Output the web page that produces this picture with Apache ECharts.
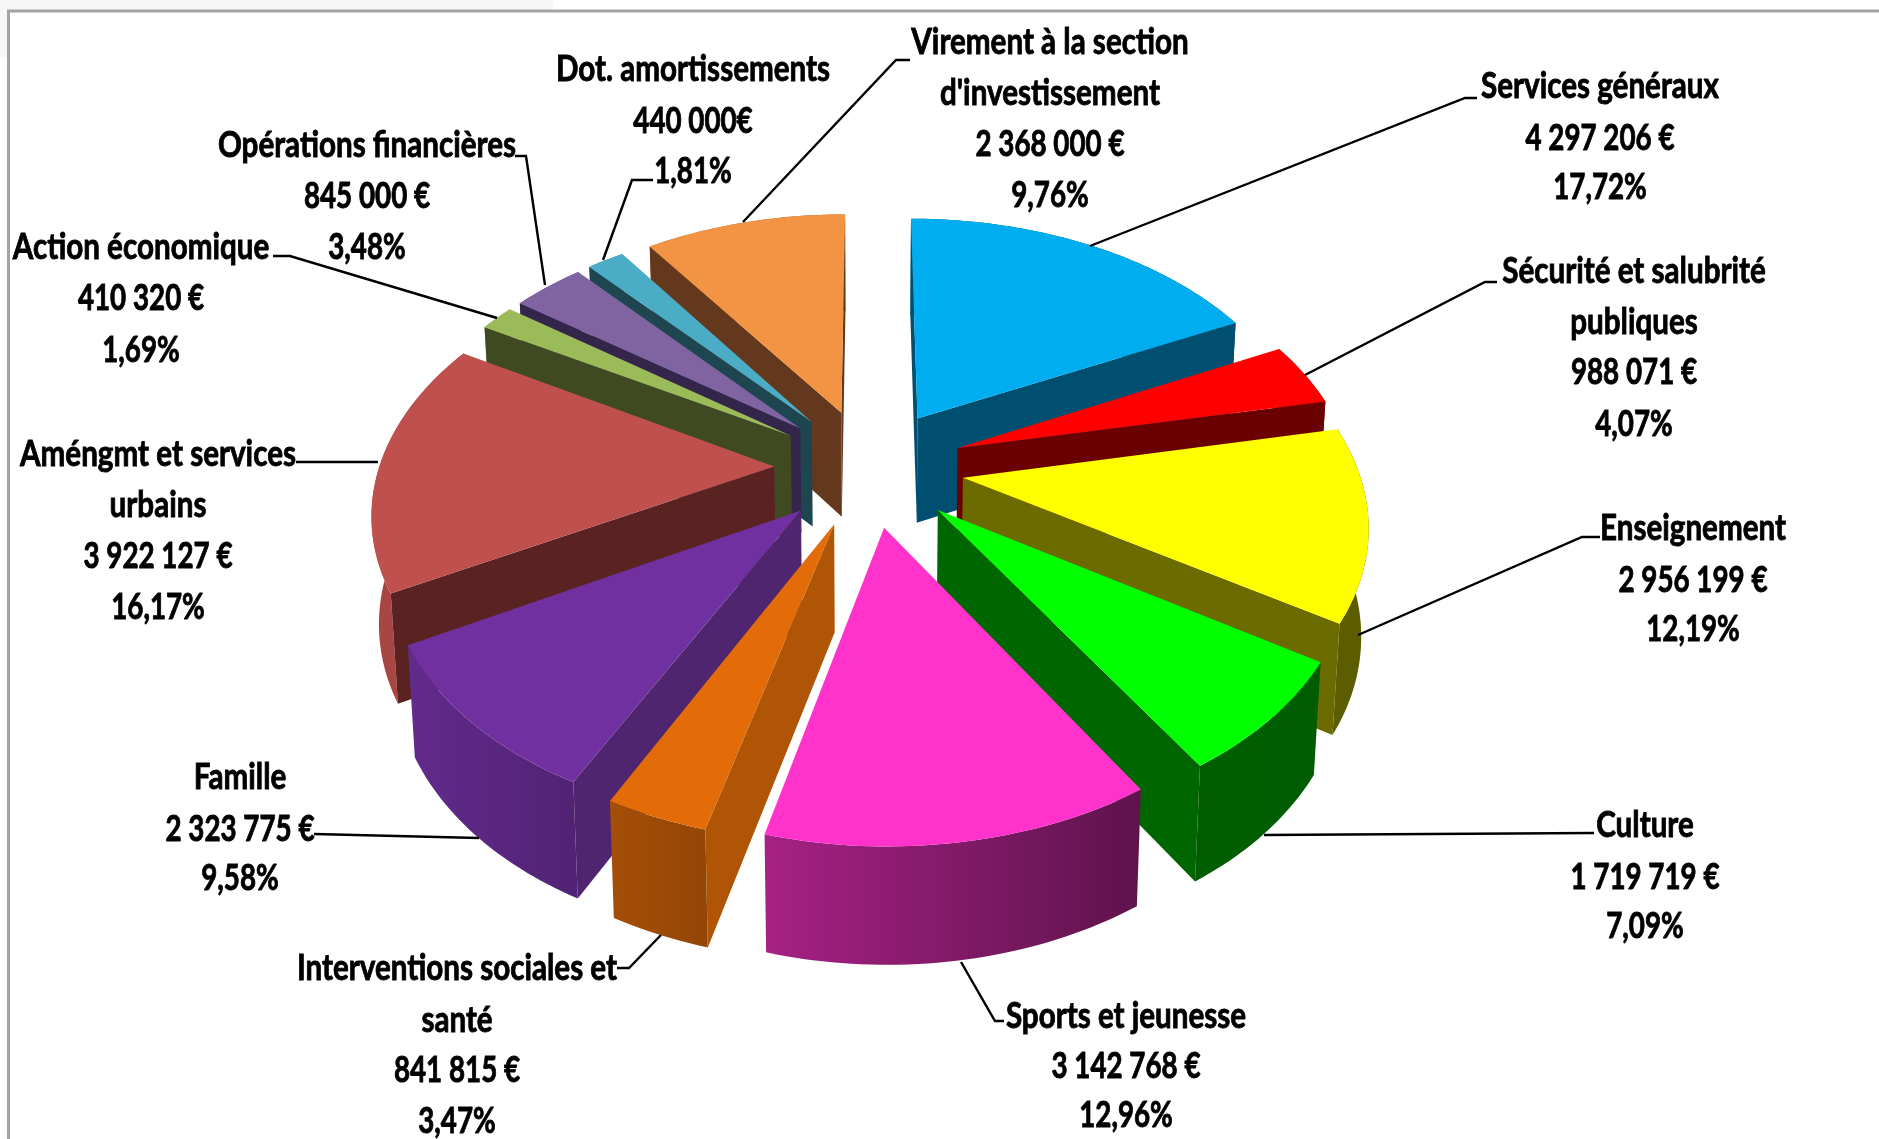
<!DOCTYPE html>
<html>
<head>
<meta charset="utf-8">
<style>html,body{margin:0;padding:0;background:#fff}#chart{width:1879px;height:1139px}</style>
<script src="https://cdn.jsdelivr.net/npm/echarts@6/dist/echarts.min.js"></script>
</head>
<body>
<div id="chart"></div>
<script>
const categories = ["Services généraux", "Sécurité et salubrité|publiques", "Enseignement", "Culture", "Sports et jeunesse", "Interventions sociales et|santé", "Famille", "Améngmt et services|urbains", "Action économique", "Opérations financières", "Dot. amortissements", "Virement à la section|d'investissement"];
const values = [4297206, 988071, 2956199, 1719719, 3142768, 841815, 2323775, 3922127, 410320, 845000, 440000, 2368000];
const amounts = ["4 297 206 €", "988 071 €", "2 956 199 €", "1 719 719 €", "3 142 768 €", "841 815 €", "2 323 775 €", "3 922 127 €", "410 320 €", "845 000 €", "440 000€", "2 368 000 €"];
const percents = ["17,72%", "4,07%", "12,19%", "7,09%", "12,96%", "3,47%", "9,58%", "16,17%", "1,69%", "3,48%", "1,81%", "9,76%"];
const topColors = ["#00AEEF", "#FF0000", "#FFFF00", "#00FF00", "#FF33CC", "#E36C09", "#7030A0", "#C0504D", "#9BBB59", "#8064A2", "#4BACC6", "#F29444"];
const wallColors = ["#004F70", "#6B0000", "#6B6B00", "#006600", "#7A1A62", "#B05505", "#502570", "#5A2322", "#404A22", "#34264A", "#1E4650", "#64381C"];

// label placement, one y per text line
const labelBoxes = [
    {x: 1600, y: [86, 138, 187]},
    {x: 1634, y: [271, 322, 372, 424]},
    {x: 1693, y: [528, 580, 629]},
    {x: 1645, y: [825, 877, 926]},
    {x: 1126, y: [1016, 1066, 1115]},
    {x: 457, y: [968, 1020, 1070, 1121]},
    {x: 240, y: [777, 829, 878]},
    {x: 158, y: [454, 505, 556, 607]},
    {x: 141, y: [247, 298, 350]},
    {x: 367, y: [145, 196, 247]},
    {x: 693, y: [69, 121, 171]},
    {x: 1050, y: [42, 93, 144, 195]}
];
const leaders = [
    [[1477, 98], [1465, 98], [1090, 246]],
    [[1497, 282], [1485, 282], [1305, 375]],
    [[1600, 537], [1582, 537], [1358, 635]],
    [[1594, 833], [1264, 835]],
    [[1004, 1021], [995, 1021], [961, 962]],
    [[617, 968], [629, 968], [661, 935]],
    [[314, 834], [479, 838]],
    [[296, 462], [378, 462]],
    [[273, 256], [290, 256], [497, 318]],
    [[515, 156], [526, 156], [545, 285]],
    [[653, 180], [632, 180], [603, 260]],
    [[910, 60], [896, 60], [743, 222]]
];

// perspective projection of the exploded pie
const CX = 869, CY = 467, R = 395, RY = 246, DEPTH = 106, PERSP = 0.16, EXPLODE = 0.24;
const total = values.reduce((a, b) => a + b, 0);

const project = (u, v, low) => {
    const s = 1 / (1 - PERSP * v);
    let x = CX + u * R * s;
    let y = CY + v * RY * s;
    if (low) {
        x = CX + (x - CX) * 0.985;
        y += DEPTH * Math.sqrt(s);
    }
    return [x, y];
};

const shade = (color, f) => {
    const n = parseInt(color.slice(1), 16);
    const c = [n >> 16, (n >> 8) & 255, n & 255].map(ch => Math.round(ch * f));
    return "rgb(" + c.join(",") + ")";
};

const rimFactor = (a) => Math.min(0.88, Math.max(0.36, 0.56 - 0.36 * Math.sin(a)));

const renderSlice = (params, api) => {
    const i = api.value(0);
    let before = 0;
    for (let k = 0; k < i; k++) before += values[k];
    const a0 = before / total * Math.PI * 2;
    const a1 = (before + api.value(1)) / total * Math.PI * 2;
    const mid = (a0 + a1) / 2;
    const ou = EXPLODE * Math.sin(mid), ov = -EXPLODE * Math.cos(mid);
    const topArc = [], lowArc = [];
    const steps = Math.max(4, Math.ceil((a1 - a0) / 0.02));
    for (let n = 0; n <= steps; n++) {
        const a = a0 + (a1 - a0) * n / steps;
        topArc.push(project(ou + Math.sin(a), ov - Math.cos(a), false));
        lowArc.push(project(ou + Math.sin(a), ov - Math.cos(a), true));
    }
    const apex = project(ou, ov, false);
    const apexLow = project(ou, ov, true);
    const midRim = topArc[Math.floor(steps / 2)];
    // a radial wall shows only when its lower edge falls outside the top face
    const wallShows = (corner) => {
        const dx = corner[0] - apex[0], dy = corner[1] - apex[1];
        const down = dx;
        const inside = dx * (midRim[1] - apex[1]) - dy * (midRim[0] - apex[0]);
        return down * inside < 0;
    };
    // rim shading follows the screen x, lighter on the left
    const leftA = topArc[0][0] < topArc[steps][0] ? a0 : a1;
    const rightA = leftA === a0 ? a1 : a0;
    const rim = new echarts.graphic.LinearGradient(0, 0, 1, 0, [
        {offset: 0, color: shade(topColors[i], rimFactor(leftA))},
        {offset: 1, color: shade(topColors[i], rimFactor(rightA))}
    ]);
    const poly = (points, fill) => ({type: "polygon", shape: {points}, style: {fill}, silent: true});
    const children = [poly(topArc.concat(lowArc.slice().reverse()), rim)];
    if (wallShows(topArc[0])) children.push(poly([apex, topArc[0], lowArc[0], apexLow], wallColors[i]));
    if (wallShows(topArc[steps])) children.push(poly([apex, topArc[steps], lowArc[steps], apexLow], wallColors[i]));
    children.push(poly([apex].concat(topArc), topColors[i]));
    return {type: "group", children};
};

const midAngle = (i) => {
    let before = 0;
    for (let k = 0; k < i; k++) before += values[k];
    return (before + values[i] / 2) / total * Math.PI * 2;
};

// back slices first so the front ones paint over them
const drawOrder = values.map((v, i) => i).sort((a, b) => Math.cos(midAngle(b)) - Math.cos(midAngle(a)));

const getGraphics = () => {
    const items = [
        {type: "rect", shape: {x: 0, y: 0, width: 553, height: 10}, style: {fill: "#f7f7f7"}},
        {type: "rect", shape: {x: 0, y: 0, width: 7, height: 57}, style: {fill: "#f7f7f7"}},
        {type: "polyline", shape: {points: [[8.5, 1139], [8.5, 11], [1879, 11]]}, style: {stroke: "#a3a3a3", lineWidth: 3, fill: null}}
    ];
    leaders.forEach(points => {
        items.push({type: "polyline", z: 5, shape: {points}, style: {stroke: "#000", lineWidth: 2.4, fill: null}});
    });
    categories.forEach((name, i) => {
        const names = name.split("|");
        const lines = names.concat([amounts[i], percents[i]]);
        lines.forEach((text, n) => {
            items.push({
                type: "text",
                z: 6,
                x: labelBoxes[i].x,
                y: labelBoxes[i].y[n],
                // the figures run a bit wider than the names in Lato
                scaleX: n < names.length ? 0.8 : 0.75,
                style: {
                    text,
                    x: 0,
                    y: 0,
                    align: "center",
                    verticalAlign: "middle",
                    fill: "#000",
                    stroke: "#000",
                    lineWidth: 0.9,
                    font: 'bold 37px Lato, "Liberation Sans", sans-serif'
                }
            });
        });
    });
    return items;
};

const getOptionChart = () => {
    return {
        animation: false,
        backgroundColor: "#fff",
        graphic: {elements: getGraphics()},
        series: [{
            type: "custom",
            coordinateSystem: "none",
            renderItem: renderSlice,
            data: drawOrder.map(i => [i, values[i]])
        }]
    };
};

const chart = echarts.init(document.querySelector("#chart"));
chart.setOption(getOptionChart());
</script>
</body>
</html>
